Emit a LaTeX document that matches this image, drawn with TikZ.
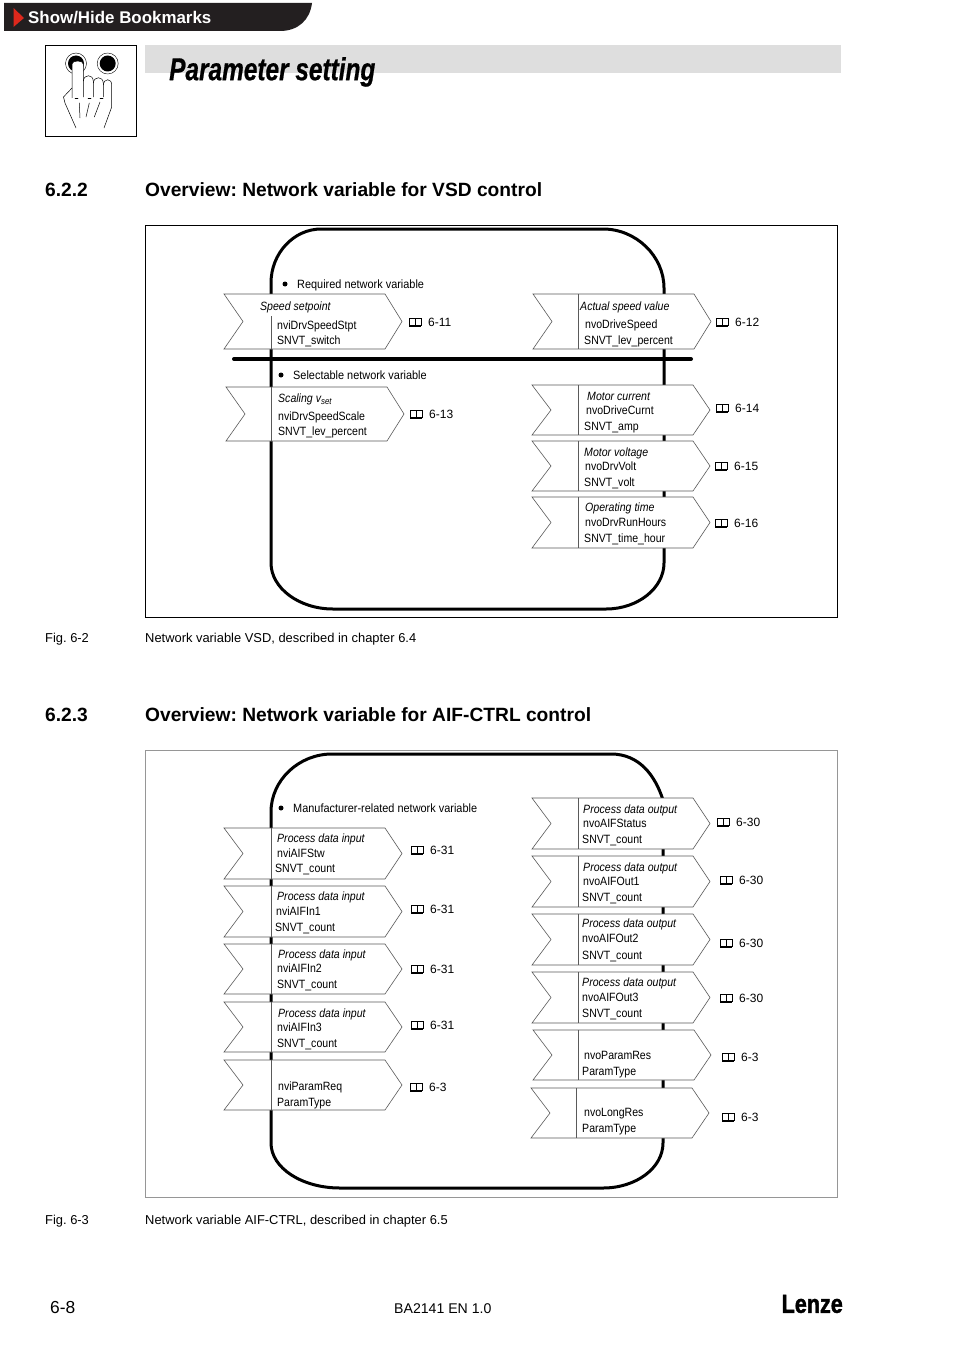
\documentclass[tikz,border=0pt]{standalone}
\usepackage{fontspec}
\setmainfont{Liberation Sans}
\newfontfamily\nvfont[FakeStretch=0.88]{Liberation Sans}
\newfontfamily\notefont[FakeStretch=0.91]{Liberation Sans}
\newfontfamily\chapfont[FakeStretch=0.77,FakeBold=0.6]{Liberation Sans}
\newfontfamily\logofont[FakeStretch=0.83,FakeBold=1.5]{Liberation Sans}
\usetikzlibrary{arrows.meta,positioning,calc}
\definecolor{barblack}{RGB}{35,31,32}
\definecolor{markred}{RGB}{222,40,28}
\definecolor{bandgrey}{RGB}{222,222,222}
\definecolor{framegrey}{RGB}{150,150,150}
\definecolor{edgegrey}{RGB}{90,90,90}
\tikzset{
  base/.style={inner sep=0pt, anchor=west, text height=10pt, text depth=2pt},
  nvtext/.style={base, font=\nvfont\fontsize{12}{14}\selectfont},
  nvtitle/.style={base, font=\nvfont\itshape\fontsize{12}{14}\selectfont},
  nvnote/.style={base, font=\notefont\fontsize{12}{14}\selectfont},
  nvref/.style={base, font=\fontsize{12}{14}\selectfont},
  nvdot/.style={circle, fill=black, minimum size=5pt, inner sep=0pt},
  heading/.style={inner sep=0pt, anchor=west, font=\bfseries\fontsize{19.2}{22}\selectfont},
  caption/.style={base, font=\fontsize{12.9}{15}\selectfont},
  bigloop/.style={draw=black, line width=3pt},
  divbar/.style={line width=4pt, draw=black, line cap=round},
  frameblack/.style={rectangle, draw=black, line width=0.8pt, fill=white},
  framesoft/.style={rectangle, draw=framegrey, line width=1pt, fill=white},
  varbox/.style={draw=edgegrey, fill=white, line width=0.6pt},
  handline/.style={draw=black, line width=0.5pt, line cap=round},
  book/.pic={
    \draw[black, line width=0.8pt, fill=white] (0,-3.5) rectangle (6,3.5);
    \draw[black, line width=0.8pt, fill=white] (6,-3.5) rectangle (12,3.5);
    \draw[black, line width=1.3pt] (0,4) -- (12,4);
  },
}
\frenchspacing
\begin{document}
\begin{tikzpicture}[x=1pt,y=-1pt]
  \useasboundingbox (0,0) rectangle (954,1351);
  % page head
  \draw[fill=barblack, draw=none] (4,3) -- (312,3) .. controls (310,20) and (298,31) .. (280,31) -- (4,31) -- cycle;
  \fill[markred] (13.5,8) -- (24,18) -- (13.5,27) -- cycle;
  \node[inner sep=0pt, anchor=west, text=white, font=\bfseries\fontsize{16.9}{18}\selectfont] (bookmarks) at (28,17.5) {Show/Hide Bookmarks};
  \fill[bandgrey] (145,45) rectangle (841,73);
  \node[inner sep=0pt, anchor=west, font=\chapfont\bfseries\itshape\fontsize{31.7}{34}\selectfont] (chapter) at (169,72) {Parameter setting};
  % hand icon
  \node[rectangle, draw=black, line width=0.8pt, minimum size=91pt] (iconbox) at (91,91) {};
  \foreach \n/\x in {keyl/76,keyr/107.7}{
    \node[circle, draw=black, line width=0.4pt, minimum size=21pt, inner sep=0pt] (\n) at (\x,63.5) {};
    \fill[black] (\n.center) circle (8);
  }
  \draw[handline, fill=white] (72,98) -- (72,64) .. controls (72,60) and (83.3,60) .. (83.3,64) -- (83.3,97);
  \draw[handline] (83.3,81) .. controls (84,74) and (93,74) .. (93.3,81) -- (93.3,97);
  \draw[handline] (93.3,83) .. controls (94,76) and (103,76) .. (103.3,83) -- (103.3,97);
  \draw[handline] (103.3,85) .. controls (104,78) and (111.7,78) .. (111.7,85) -- (111.7,107) -- (104,128);
  \draw[handline] (72,88) -- (63.5,97) -- (65,103) -- (76,128);
  \draw[handline] (79.3,103) -- (80,118);
  \draw[handline] (89.3,103) -- (86,117);
  \draw[handline] (100,102) -- (94.3,117);
  \foreach \x in {75,88,100}{\draw[handline] (\x,98.5) -- (\x+3,98.5);}
  % section 6.2.2
  \node[heading] (numvsd) at (45,190) {6.2.2};
  \node[heading] (headvsd) at (145,190) {Overview: Network variable for VSD control};
  \node[frameblack, minimum width=692pt, minimum height=392pt] (framevsd) at (491.7,421) {};
  \draw[bigloop] (271,283) .. controls (271,253) and (294,229) .. (321,229) -- (603,229) .. controls (636,229) and (664,256) .. (664,288) -- (664,563) .. controls (664,588) and (638,609) .. (606,609) -- (333,609) .. controls (299,609) and (271,588) .. (271,563) -- cycle;
  \coordinate (barl) at (234,359);
  \coordinate (barr) at (691,359);
  \draw[divbar] (barl) -- (barr);
  \node[caption] (figvsd) at (45,638) {Fig. 6-2};
  \node[caption] (capvsd) at (145,638) {Network variable VSD, described in chapter 6.4};
  % section 6.2.3
  \node[heading] (numaif) at (45,715) {6.2.3};
  \node[heading] (headaif) at (145,715) {Overview: Network variable for AIF-CTRL control};
  \node[framesoft, minimum width=692pt, minimum height=447pt] (frameaif) at (491.7,973.5) {};
  \draw[bigloop] (271,812) .. controls (271,780) and (299,754) .. (332,754) -- (611,754) .. controls (639,754) and (655,775) .. (663,800) -- (663,1143) .. controls (663,1168) and (636,1188) .. (603,1188) -- (340,1188) .. controls (302,1188) and (271,1168) .. (271,1143) -- cycle;
  \node[caption] (figaif) at (45,1220) {Fig. 6-3};
  \node[caption] (capaif) at (145,1220) {Network variable AIF-CTRL, described in chapter 6.5};
  % bullets
  \foreach \n/\xd/\x/\y/\t in {required/285/297/284/Required network variable, selectable/281/293/375/Selectable network variable, manufacturer/281/293/808/Manufacturer-related network variable}{
    \node[nvdot] (\n-dot) at (\xd,\y) {};
    \node[nvnote] (\n) at (\x,\y) {\t};
  }
  % variable boxes
  \foreach \n/\xl/\yt/\yb/\xd/\yd in {
    vsda/224/294/349/271/316, vsdb/226/387/441/271.5/387,
    vsdc/533/294/349/578/294, vsdd/532/385/435/578/385, vsde/532/441/491/578/441, vsdf/532/497/548/578/497,
    aifa/224/828/879/271/828, aifb/224/886/937/271/886, aifc/224/944/994/271/944, aifd/224/1002/1052/271/1002, aife/224/1060/1110/271/1060,
    aiff/532/798/849/578/798, aifg/532/856/907/578/856, aifh/532/914/965/578/914, aifi/532/972/1023/578/972, aifj/533/1030/1080/578/1030, aifk/531/1088/1138/576.5/1088}{
    \draw[varbox] (\xl,\yt) -- (\xl+161,\yt) -- ({\xl+178},{(\yt+\yb)/2}) -- (\xl+161,\yb) -- (\xl,\yb) -- ({\xl+19},{(\yt+\yb)/2}) -- cycle;
    \draw[varbox] (\xd,\yd) -- (\xd,\yb);
  }
  % box titles
  \foreach \n/\x/\y/\t in {
    vsda/260/306/Speed setpoint, vsdb/278/398/{Scaling v\raisebox{-2pt}{\fontsize{9}{9}\selectfont set}},
    vsdc/580/306/Actual speed value, vsdd/587/396/Motor current, vsde/584/452/Motor voltage, vsdf/585/507/Operating time,
    aifa/277/838/Process data input, aifb/277/896/Process data input, aifc/278/954/Process data input, aifd/278/1013/Process data input,
    aiff/583/809/Process data output, aifg/583/867/Process data output, aifh/582/923/Process data output, aifi/582/982/Process data output}{
    \node[nvtitle] (\n-title) at (\x,\y) {\t};
  }
  % variable names
  \foreach \n/\x/\y/\t in {
    vsda/277/325/nviDrvSpeedStpt, vsdb/278/416/nviDrvSpeedScale,
    vsdc/585/324/nvoDriveSpeed, vsdd/586/410/nvoDriveCurnt, vsde/585/466/nvoDrvVolt, vsdf/585/522/nvoDrvRunHours,
    aifa/277/853/nviAIFStw, aifb/276/911/nviAIFIn1, aifc/277/968/nviAIFIn2, aifd/277/1027/nviAIFIn3, aife/278/1086/nviParamReq,
    aiff/583/823/nvoAIFStatus, aifg/583/881/nvoAIFOut1, aifh/582/938/nvoAIFOut2, aifi/582/997/nvoAIFOut3, aifj/584/1055/nvoParamRes, aifk/584/1112/nvoLongRes}{
    \node[nvtext] (\n-var) at (\x,\y) {\t};
  }
  % types
  \foreach \n/\x/\y/\t in {
    vsda/277/340/SNVT\_switch, vsdb/278/431/SNVT\_lev\_percent,
    vsdc/584/340/SNVT\_lev\_percent, vsdd/584/426/SNVT\_amp, vsde/584/482/SNVT\_volt, vsdf/584/538/SNVT\_time\_hour,
    aifa/275/868/SNVT\_count, aifb/275/927/SNVT\_count, aifc/277/984/SNVT\_count, aifd/277/1043/SNVT\_count, aife/277/1102/ParamType,
    aiff/582/839/SNVT\_count, aifg/582/897/SNVT\_count, aifh/582/955/SNVT\_count, aifi/582/1013/SNVT\_count, aifj/582/1071/ParamType, aifk/582/1128/ParamType}{
    \node[nvtext] (\n-type) at (\x,\y) {\t};
  }
  % page references
  \foreach \n/\x/\y/\t in {
    vsda/409/322/6-11, vsdb/410/414/6-13,
    vsdc/716/322/6-12, vsdd/716/408/6-14, vsde/715/466/6-15, vsdf/715/523/6-16,
    aifa/411/850/6-31, aifb/411/909/6-31, aifc/411/969/6-31, aifd/411/1025/6-31, aife/410/1087/6-3,
    aiff/717/822/6-30, aifg/720/880/6-30, aifh/720/943/6-30, aifi/720/998/6-30, aifj/722/1057/6-3, aifk/722/1117/6-3}{
    \pic at (\x,\y) {book};
    \node[nvref] (\n-ref) at (\x+19,\y) {\t};
  }
  % page foot
  \node[base, font=\fontsize{17.4}{19}\selectfont] (pagenum) at (50,1309) {6-8};
  \node[base, font=\fontsize{14.1}{16}\selectfont] (docnum) at (394,1309) {BA2141 EN 1.0};
  \node[inner sep=0pt, anchor=east, font=\logofont\bfseries\fontsize{26}{28}\selectfont] (lenze) at (843,1304) {Lenze};
\end{tikzpicture}
\end{document}
